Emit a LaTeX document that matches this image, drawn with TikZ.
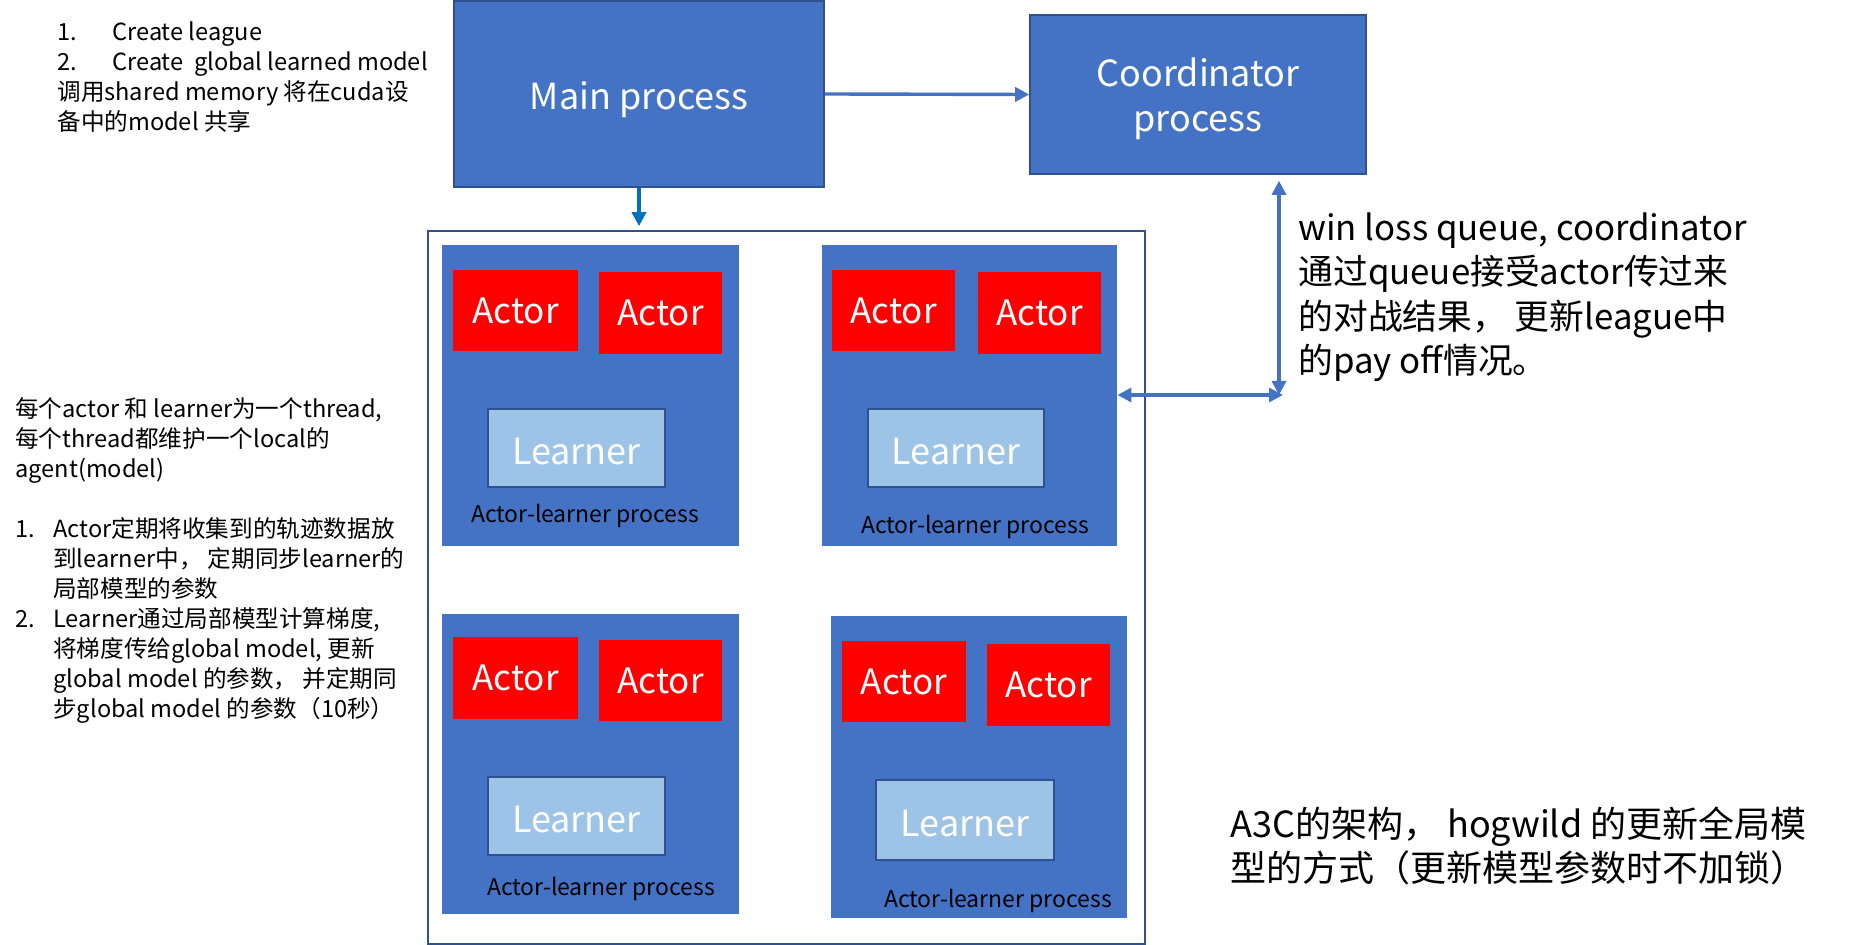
\documentclass[tikz,border=0pt]{standalone}
\usepackage{fontspec}
\setmainfont{Noto Sans CJK SC}
\usetikzlibrary{fit,arrows.meta}
\definecolor{pblue}{HTML}{4472C4}
\definecolor{pborder}{HTML}{2F528F}
\definecolor{lblue}{HTML}{9DC3E6}
\definecolor{dblue}{HTML}{0070C0}
\definecolor{ared}{HTML}{FF0000}
\newcommand{\lowertext}[2]{\raisebox{-#1}[\height][\depth]{#2}}
\begin{document}
\begin{tikzpicture}[x=0.5pt,y=-0.5pt,
  procbox/.style={inner sep=0pt, draw=pborder, line width=0.8pt, fill=pblue, text=white, font=\fontsize{18}{22.5}\selectfont, align=center},
  proctext/.style={inner sep=0pt, text=white, font=\fontsize{18}{22.5}\selectfont, align=center},
  albox/.style={fit={#1}, inner sep=0pt, fill=pblue},
  actorbox/.style={inner sep=0pt, fill=ared, text=white, font=\fontsize{17.5}{20}\selectfont},
  learnbox/.style={inner sep=0pt, draw=pborder, line width=0.8pt, fill=lblue, text=white, font=\fontsize{18}{20}\selectfont, minimum height=39pt},
  allabel/.style={inner sep=0pt, text=black, font=\fontsize{11.5}{13}\selectfont},
  note/.style={inner sep=0pt, anchor=north west, align=left, text=black},
  conn/.style={line width=1.7pt, draw=pblue, -{Triangle[length=7pt,width=7pt]}},
  dconn/.style={line width=1.6pt, draw=pblue, {Triangle[length=7pt,width=7pt]}-{Triangle[length=7pt,width=7pt]}}
]
\useasboundingbox (0,0) rectangle (1854,945);

% top boxes
\node[procbox, minimum width=185pt, minimum height=93pt] (main) at (639,94) {\lowertext{3pt}{Main process}};
\node[procbox, minimum width=168pt, minimum height=79.5pt,
  label={[proctext, yshift=-2pt]center:{Coordinator\\process}}] (coord) at (1198,94.5) {};

% outer container
\node[fit={(428,231)(1145,944)}, inner sep=0pt, draw=pborder, line width=0.8pt] (outer) {};

% actor-learner processes
\node[albox={(442,245)(739,546)}] (tl) {};
\node[albox={(822,245)(1117,546)}] (tr) {};
\node[albox={(442,614)(739,914)}] (bl) {};
\node[albox={(831,616)(1127,918)}] (br) {};

\node[actorbox, minimum width=62.5pt, minimum height=40.5pt] (tla1) at (515.5,310.5) {Actor};
\node[actorbox, minimum width=61.5pt, minimum height=41pt] (tla2) at (660.5,313) {Actor};
\node[learnbox, minimum width=88.5pt] (tll) at (576.5,448) {\lowertext{1.7pt}{Learner}};
\node[allabel] (tllab) at (585,516) {Actor-learner process};

\node[actorbox, minimum width=61.5pt, minimum height=40.5pt] (tra1) at (893.5,310.5) {Actor};
\node[actorbox, minimum width=61.5pt, minimum height=41pt] (tra2) at (1039.5,313) {Actor};
\node[learnbox, minimum width=88pt] (trl) at (956,448) {\lowertext{1.7pt}{Learner}};
\node[allabel] (trlab) at (975,527) {Actor-learner process};

\node[actorbox, minimum width=62.5pt, minimum height=41pt] (bla1) at (515.5,678) {Actor};
\node[actorbox, minimum width=61.5pt, minimum height=40.5pt] (bla2) at (660.5,680.5) {Actor};
\node[learnbox, minimum width=88.5pt] (bll) at (576.5,816) {\lowertext{1.7pt}{Learner}};
\node[allabel] (bllab) at (601,889) {Actor-learner process};

\node[actorbox, minimum width=62pt, minimum height=40.5pt] (bra1) at (904,681.5) {Actor};
\node[actorbox, minimum width=61.5pt, minimum height=41pt] (bra2) at (1048.5,685) {Actor};
\node[learnbox, minimum width=89pt, minimum height=40pt] (brl) at (965,820) {\lowertext{1.7pt}{Learner}};
\node[allabel] (brlab) at (998,901) {Actor-learner process};

% connectors
\draw[conn] (main.east) -- (coord.west);
\draw[conn, draw=dblue] (main.south) -- ([yshift=2pt]main.south |- outer.north);
\coordinate (corner) at (1279,395);
\draw[dconn] ([yshift=-3pt]coord.south -| corner) -- (corner);
\draw[dconn] (tr.east |- corner) -- ([xshift=2pt]corner);

% notes
\node[note, font=\fontsize{11.8}{15}\selectfont] (n1) at (57,21) {%
\makebox[27.5pt][l]{1.}Create league\\
\makebox[27.5pt][l]{2.}Create\ \ global learned model\\
调用shared memory 将在cuda设\\
备中的model 共享};

\node[note, font=\fontsize{11.8}{15}\selectfont] (n2) at (15,397) {%
每个actor 和 learner为一个thread,\\
每个thread都维护一个local的\\
agent(model)\\
\mbox{}\\
\makebox[19pt][l]{1.}Actor定期将收集到的轨迹数据放\\
\hspace*{19pt}到learner中， 定期同步learner的\\
\hspace*{19pt}局部模型的参数\\
\makebox[19pt][l]{2.}Learner通过局部模型计算梯度,\\
\hspace*{19pt}将梯度传给global model, 更新\\
\hspace*{19pt}global model 的参数， 并定期同\\
\hspace*{19pt}步global model 的参数（10秒）};

\node[note, font=\fontsize{17.4}{22.3}\selectfont] (n3) at (1298,212) {%
win loss queue, coordinator\\
通过queue接受actor传过来\\
的对战结果， 更新league中\\
的pay off情况。};

\node[note, font=\fontsize{18}{22}\selectfont] (n4) at (1230,806) {%
A3C的架构， hogwild 的更新全局模\\
型的方式（更新模型参数时不加锁）};
\end{tikzpicture}
\end{document}
